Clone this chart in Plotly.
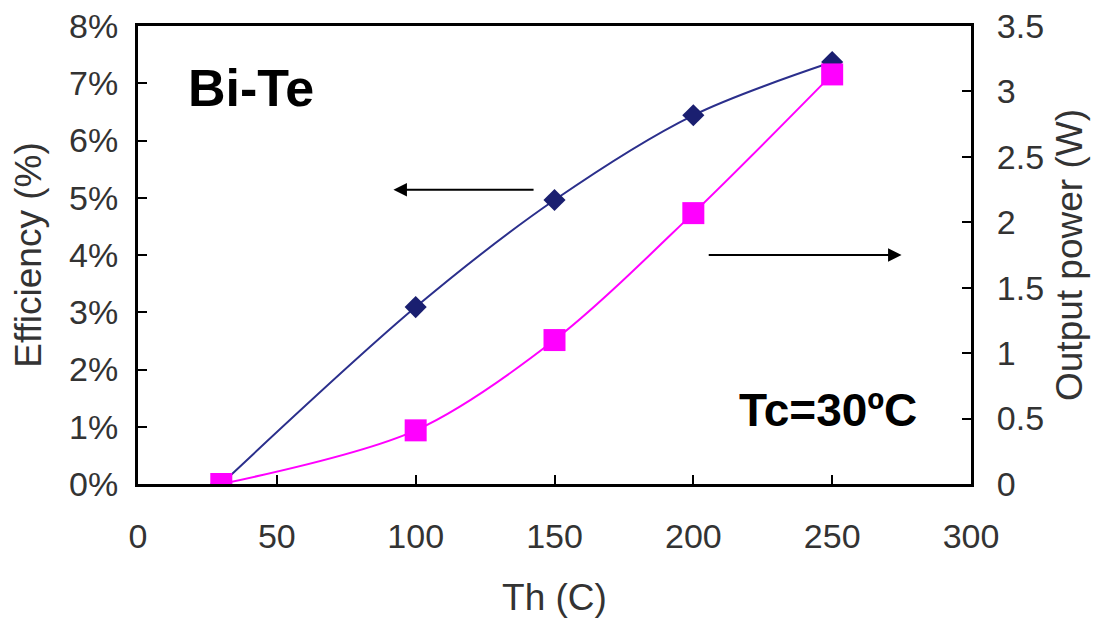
import plotly.graph_objects as go

th = [30, 100, 150, 200, 250]
efficiency = [0.0, 0.0309, 0.0496, 0.0644, 0.0737]
power = [0.0, 0.41, 1.1, 2.07, 3.13]

x_ticks = [0, 50, 100, 150, 200, 250, 300]
eff_ticks = [0, 0.01, 0.02, 0.03, 0.04, 0.05, 0.06, 0.07, 0.08]
pow_ticks = [0, 0.5, 1, 1.5, 2, 2.5, 3, 3.5]
pow_labels = ["0", "0.5", "1", "1.5", "2", "2.5", "3", "3.5"]

FONT = "Liberation Sans, Arial, sans-serif"
TICKC = "#333333"

fig = go.Figure()
fig.add_trace(go.Scatter(
    x=th, y=efficiency, mode="lines+markers", name="Efficiency",
    line=dict(color="#2b2f8c", width=2, shape="spline", smoothing=0.9),
    marker=dict(symbol="diamond", size=17, color="#1a1f70"),
    yaxis="y",
))
fig.add_trace(go.Scatter(
    x=th, y=power, mode="lines+markers", name="Output power",
    line=dict(color="#ff00ff", width=2, shape="spline", smoothing=0.9),
    marker=dict(symbol="square", size=22, color="#ff00ff"),
    yaxis="y2",
))

axis_common = dict(
    showline=True, linecolor="black", linewidth=3,
    ticks="inside", ticklen=9, tickcolor="black", tickwidth=1.5,
    showgrid=False, zeroline=False, automargin=False, ticklabeloverflow="allow",
    tickfont=dict(family=FONT, size=34, color=TICKC),
)
title_font = dict(family=FONT, size=37, color=TICKC)

fig.update_layout(
    width=1096, height=615,
    margin=dict(l=130, r=133, t=18, b=139),
    plot_bgcolor="white", paper_bgcolor="white",
    showlegend=False,
    xaxis=dict(range=[0, 300], tickvals=x_ticks, mirror=True, ticklabelstandoff=20,
               title=dict(text="Th (C)", font=title_font, standoff=31),
               **axis_common),
    yaxis=dict(range=[0, 0.08], tickvals=eff_ticks, tickformat=".0%", ticklabelstandoff=10,
               title=dict(text="Efficiency (%)", font=title_font, standoff=18),
               **axis_common),
    yaxis2=dict(range=[0, 3.5], tickvals=pow_ticks, ticktext=pow_labels, ticklabelstandoff=16,
                overlaying="y", side="right",
                title=dict(text="Output power (W)", font=title_font, standoff=14),
                **axis_common),
)

fig.add_annotation(x=0.0576, y=0.0692, xref="paper", yref="y", text="<b>Bi-Te</b>",
                   showarrow=False, xanchor="left", yanchor="middle",
                   font=dict(family=FONT, size=52, color="black"))
fig.add_annotation(x=0.9376, y=0.0129, xref="paper", yref="y", text="<b>Tc=30ºC</b>",
                   showarrow=False, xanchor="right", yanchor="middle",
                   font=dict(family=FONT, size=46, color="black"))

# left-pointing arrow (efficiency -> left axis)
fig.add_annotation(x=92, y=0.0514, ax=143, ay=0.0514, xref="x", yref="y", axref="x", ayref="y",
                   text="", showarrow=True, arrowhead=2, arrowsize=1.5, arrowwidth=1.8, arrowcolor="black")
# right-pointing arrow (power -> right axis)
fig.add_annotation(x=275, y=0.04, ax=205, ay=0.04, xref="x", yref="y", axref="x", ayref="y",
                   text="", showarrow=True, arrowhead=2, arrowsize=1.5, arrowwidth=1.8, arrowcolor="black")

fig.write_html("out.html")
